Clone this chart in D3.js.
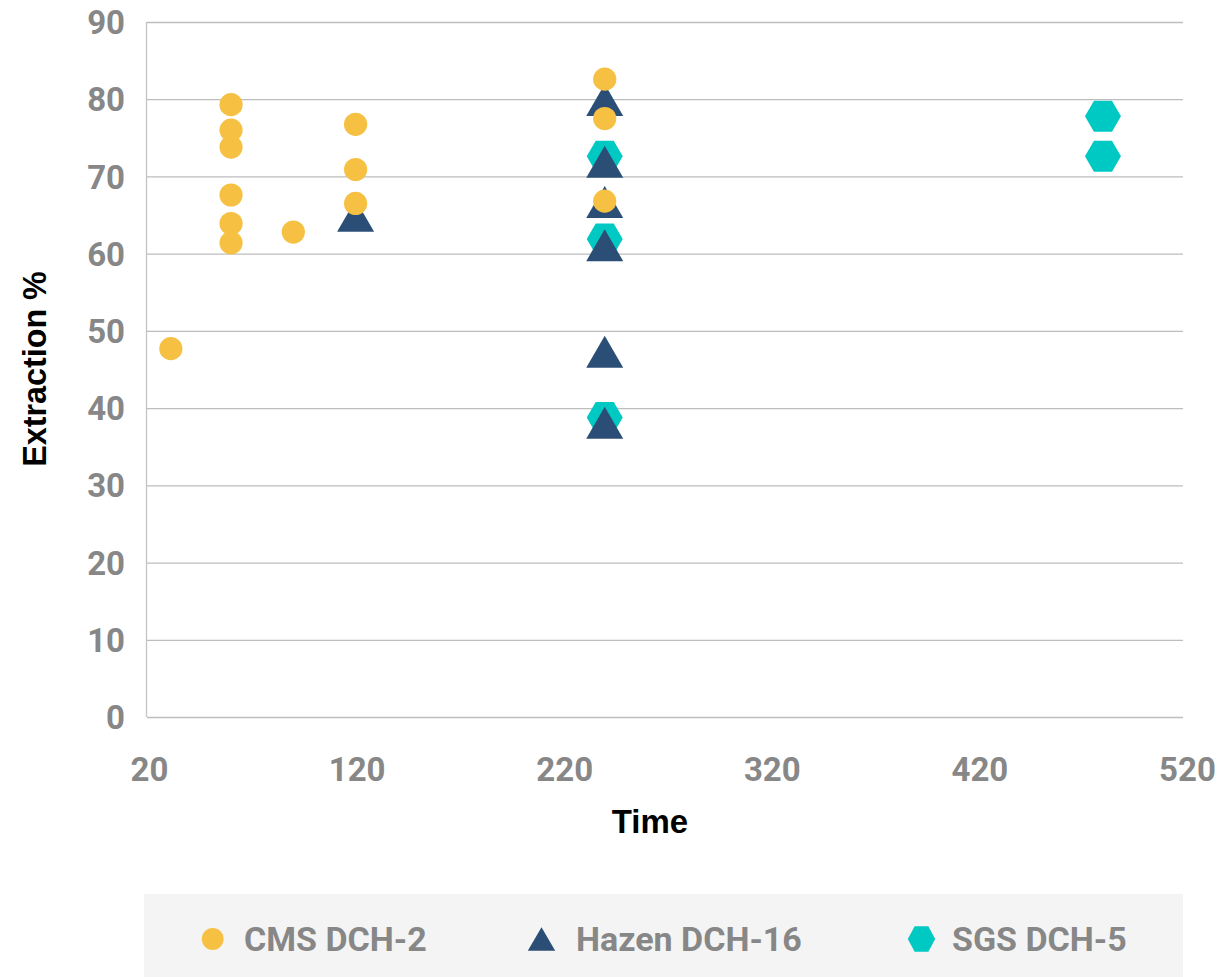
<!DOCTYPE html>
<html>
<head>
<meta charset="utf-8">
<script src="https://cdn.jsdelivr.net/npm/d3@7"></script>
<style>
  html, body { margin: 0; padding: 0; background: #fff; }
  svg { display: block; font-family: Roboto, "Noto Sans", sans-serif; }
</style>
</head>
<body>
<svg id="chart" width="1232" height="977"></svg>
<script>
// ---- data ----
const xTicks = [20, 120, 220, 320, 420, 520];
const yTicks = [0, 10, 20, 30, 40, 50, 60, 70, 80, 90];

const cmsTime = [31, 60, 60, 60, 60, 60, 60, 90, 120, 120, 120, 240, 240, 240];
const cmsExtraction = [47.7, 79.3, 76.0, 73.8, 67.6, 63.9, 61.4, 62.8, 76.75, 70.9, 66.5, 82.6, 77.5, 66.8];

const hazenTime = [120, 240, 240, 240, 240, 240, 240];
const hazenExtraction = [64.9, 79.9, 71.9, 66.7, 61.1, 47.3, 38.1];

const sgsTime = [240, 240, 240, 480, 480];
const sgsExtraction = [72.6, 61.9, 38.8, 77.8, 72.6];

const seriesNames = ["CMS DCH-2", "Hazen DCH-16", "SGS DCH-5"];
const seriesColors = ["#F6C142", "#2B4E76", "#00C8C3"];

// ---- layout ----
const svg = d3.select("#chart");
const pLeft = 147, pRight = 1183, pTop = 22, pBottom = 717;
const x = d3.scaleLinear().domain([20, 520]).range([148, 1186]);
const y = d3.scaleLinear().domain([0, 90]).range([pBottom, pTop]);
const tickColor = "#878787";
const tickFont = "Roboto, 'Noto Sans', sans-serif";

// gridlines + y labels
const yAxis = svg.append("g")
  .attr("transform", `translate(${pLeft},0)`)
  .call(d3.axisLeft(y).tickValues(yTicks).tickSize(-(pRight - pLeft)).tickPadding(22).tickFormat(d3.format("d")));
yAxis.attr("font-family", tickFont);
yAxis.select(".domain").remove();
yAxis.selectAll(".tick line").attr("stroke", "#bdbdbd").attr("stroke-width", 1.3);
yAxis.selectAll(".tick text")
  .attr("fill", tickColor).attr("font-size", 33).attr("font-weight", 700)
  .attr("dy", "0.35em");

// left axis line
svg.append("line")
  .attr("x1", pLeft - 0.5).attr("x2", pLeft - 0.5)
  .attr("y1", y(90)).attr("y2", y(0))
  .attr("stroke", "#c4c4c4").attr("stroke-width", 1.3);

// x labels
const xAxis = svg.append("g")
  .attr("transform", `translate(1,${pBottom})`)
  .call(d3.axisBottom(x).tickValues(xTicks).tickSize(0).tickPadding(41).tickFormat(d3.format("d")));
xAxis.attr("font-family", tickFont);
xAxis.select(".domain").remove();
xAxis.selectAll(".tick text")
  .attr("fill", tickColor).attr("font-size", 33).attr("font-weight", 700);

// axis titles
const titleFont = "'Liberation Sans', Arial, Helvetica, sans-serif";
svg.append("text")
  .attr("x", 650).attr("y", 833)
  .attr("text-anchor", "middle")
  .attr("font-family", titleFont)
  .attr("font-size", 33).attr("font-weight", 700).attr("fill", "#000")
  .text("Time");
svg.append("text")
  .attr("transform", "translate(45.5,369) rotate(-90)")
  .attr("text-anchor", "middle")
  .attr("font-family", titleFont)
  .attr("font-size", 32.3).attr("font-weight", 700).attr("fill", "#000")
  .text("Extraction %");

// marker shapes
const circleR = 11.6;
const triPath = "M0,-16 L18.5,16 L-18.5,16 Z";
const hexPath = "M-18,0 L-9,-15.5 L9,-15.5 L18,0 L9,15.5 L-9,15.5 Z";

const sgs = sgsTime.map((t, i) => ({ t, v: sgsExtraction[i] }));
const hazen = hazenTime.map((t, i) => ({ t, v: hazenExtraction[i] }));
const cms = cmsTime.map((t, i) => ({ t, v: cmsExtraction[i] }));

svg.append("g").selectAll("path").data(sgs).join("path")
  .attr("d", hexPath)
  .attr("transform", d => `translate(${x(d.t)},${y(d.v)})`)
  .attr("fill", seriesColors[2]);

svg.append("g").selectAll("path").data(hazen).join("path")
  .attr("d", triPath)
  .attr("transform", d => `translate(${x(d.t)},${y(d.v)})`)
  .attr("fill", seriesColors[1]);

svg.append("g").selectAll("circle").data(cms).join("circle")
  .attr("cx", d => x(d.t)).attr("cy", d => y(d.v)).attr("r", circleR)
  .attr("fill", seriesColors[0]);

// legend
svg.append("rect")
  .attr("x", 144).attr("y", 894).attr("width", 1039).attr("height", 83)
  .attr("fill", "#f4f4f4");

const legendMarkerX = [212.7, 541.5, 921.5];
const legendTextX = [244, 576, 952];
const legendY = 939;
const lg = svg.append("g");
seriesNames.forEach((name, i) => {
  const g = lg.append("g").attr("transform", `translate(${legendMarkerX[i]},${legendY})`);
  if (i === 0) g.append("circle").attr("r", 10.9).attr("fill", seriesColors[0]);
  if (i === 1) g.append("path").attr("d", triPath).attr("fill", seriesColors[1]).attr("transform", "scale(0.74,0.73)");
  if (i === 2) g.append("path").attr("d", hexPath).attr("fill", seriesColors[2]).attr("transform", "scale(0.76,0.82)");
  lg.append("text")
    .attr("x", legendTextX[i]).attr("y", 950.5)
    .attr("font-size", 34).attr("font-weight", 700).attr("fill", tickColor)
    .text(name);
});
</script>
</body>
</html>
